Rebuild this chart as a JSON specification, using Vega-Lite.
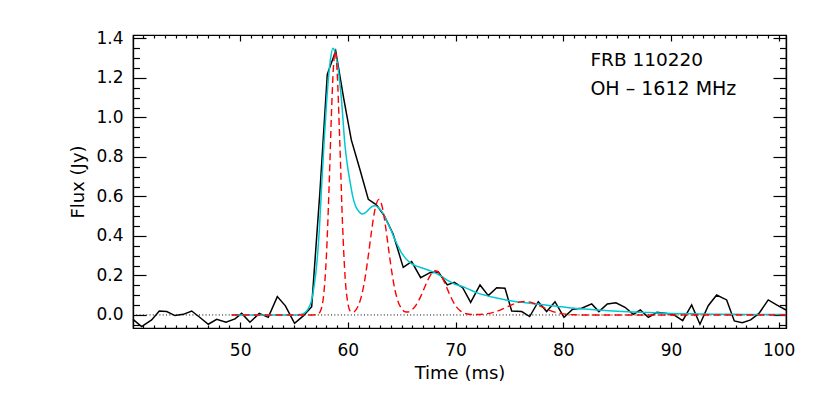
{
 "$schema": "https://vega.github.io/schema/vega-lite/v6.json",
 "width": 653,
 "height": 293,
 "autosize": {"type": "none"},
 "padding": {"left": 133, "top": 35, "right": 44, "bottom": 71},
 "background": "white",
 "config": {
  "view": {"stroke": "black", "strokeWidth": 1.2},
  "axis": {"domainColor": "black", "tickColor": "black", "labelColor": "black", "titleColor": "black", "labelFont": "DejaVu Sans", "titleFont": "DejaVu Sans", "labelFontSize": 17, "titleFontSize": 18, "titleFontWeight": "normal", "grid": false, "domainWidth": 1.2, "tickWidth": 1.2}
 },
 "datasets": {
  "obs": [
   {"t": 40.05, "f": -0.022}, {"t": 40.85, "f": -0.059}, {"t": 41.78, "f": -0.025}, {"t": 42.49, "f": 0.02}, {"t": 43.18, "f": 0.017}, {"t": 43.95, "f": -0.003}, {"t": 44.72, "f": 0.003}, {"t": 45.5, "f": 0.02}, {"t": 46.27, "f": -0.013}, {"t": 47.04, "f": -0.047}, {"t": 47.82, "f": -0.022}, {"t": 48.68, "f": -0.037}, {"t": 49.52, "f": -0.02}, {"t": 50.14, "f": 0.008}, {"t": 50.91, "f": -0.037}, {"t": 51.77, "f": 0.008}, {"t": 52.61, "f": -0.012}, {"t": 53.45, "f": 0.093}, {"t": 54.2, "f": 0.046}, {"t": 55.05, "f": -0.042}, {"t": 55.86, "f": -0.005}, {"t": 56.64, "f": 0.042}, {"t": 57.4, "f": 0.62}, {"t": 58.09, "f": 1.218}, {"t": 58.87, "f": 1.336}, {"t": 59.6, "f": 1.1}, {"t": 60.32, "f": 0.886}, {"t": 61.1, "f": 0.74}, {"t": 61.9, "f": 0.585}, {"t": 62.65, "f": 0.557}, {"t": 63.4, "f": 0.5}, {"t": 64.2, "f": 0.41}, {"t": 65.14, "f": 0.241}, {"t": 65.92, "f": 0.27}, {"t": 66.76, "f": 0.189}, {"t": 67.62, "f": 0.214}, {"t": 68.39, "f": 0.218}, {"t": 69.23, "f": 0.152}, {"t": 69.88, "f": 0.165}, {"t": 70.66, "f": 0.138}, {"t": 71.4, "f": 0.064}, {"t": 72.27, "f": 0.152}, {"t": 73.04, "f": 0.098}, {"t": 73.82, "f": 0.138}, {"t": 74.59, "f": 0.135}, {"t": 75.21, "f": 0.02}, {"t": 76.14, "f": 0.017}, {"t": 76.88, "f": -0.008}, {"t": 77.68, "f": 0.067}, {"t": 78.46, "f": 0.017}, {"t": 79.23, "f": 0.067}, {"t": 80.07, "f": -0.012}, {"t": 80.87, "f": 0.029}, {"t": 81.71, "f": 0.034}, {"t": 82.64, "f": 0.056}, {"t": 83.31, "f": 0.017}, {"t": 84.09, "f": 0.056}, {"t": 84.89, "f": 0.062}, {"t": 85.73, "f": 0.039}, {"t": 86.5, "f": 0.003}, {"t": 87.15, "f": 0.025}, {"t": 87.9, "f": -0.012}, {"t": 88.7, "f": 0.013}, {"t": 89.6, "f": 0.008}, {"t": 90.28, "f": 0.0}, {"t": 91.09, "f": -0.029}, {"t": 91.92, "f": 0.051}, {"t": 92.69, "f": -0.047}, {"t": 93.46, "f": 0.047}, {"t": 94.24, "f": 0.101}, {"t": 95.17, "f": 0.076}, {"t": 95.88, "f": -0.03}, {"t": 96.62, "f": -0.039}, {"t": 97.4, "f": -0.025}, {"t": 98.17, "f": 0.008}, {"t": 99.03, "f": 0.076}, {"t": 99.81, "f": 0.051}, {"t": 100.68, "f": 0.025}
  ],
  "model": [
   {"t": 49.2, "f": 0}, {"t": 55.3, "f": 0}, {"t": 55.6, "f": 0.003}, {"t": 55.9, "f": 0.008}, {"t": 56.17, "f": 0.02}, {"t": 56.45, "f": 0.045}, {"t": 56.7, "f": 0.09}, {"t": 56.9, "f": 0.16}, {"t": 57.1, "f": 0.25}, {"t": 57.35, "f": 0.43}, {"t": 57.57, "f": 0.66}, {"t": 57.8, "f": 0.88}, {"t": 58.03, "f": 1.08}, {"t": 58.2, "f": 1.2}, {"t": 58.4, "f": 1.3}, {"t": 58.6, "f": 1.35}, {"t": 58.75, "f": 1.34}, {"t": 58.9, "f": 1.31}, {"t": 59.17, "f": 1.215}, {"t": 59.42, "f": 1.08}, {"t": 59.73, "f": 0.86}, {"t": 59.95, "f": 0.76}, {"t": 60.2, "f": 0.675}, {"t": 60.45, "f": 0.6}, {"t": 60.7, "f": 0.553}, {"t": 61.0, "f": 0.525}, {"t": 61.3, "f": 0.511}, {"t": 61.6, "f": 0.517}, {"t": 61.9, "f": 0.532}, {"t": 62.2, "f": 0.547}, {"t": 62.5, "f": 0.553}, {"t": 62.8, "f": 0.545}, {"t": 63.1, "f": 0.528}, {"t": 63.4, "f": 0.5}, {"t": 63.7, "f": 0.465}, {"t": 64.0, "f": 0.43}, {"t": 64.3, "f": 0.39}, {"t": 64.6, "f": 0.355}, {"t": 64.9, "f": 0.322}, {"t": 65.2, "f": 0.298}, {"t": 65.5, "f": 0.278}, {"t": 65.9, "f": 0.26}, {"t": 66.4, "f": 0.247}, {"t": 66.9, "f": 0.238}, {"t": 67.5, "f": 0.226}, {"t": 68.1, "f": 0.213}, {"t": 68.7, "f": 0.195}, {"t": 69.3, "f": 0.174}, {"t": 69.9, "f": 0.156}, {"t": 70.5, "f": 0.147}, {"t": 71.2, "f": 0.131}, {"t": 72.0, "f": 0.112}, {"t": 72.8, "f": 0.099}, {"t": 73.6, "f": 0.088}, {"t": 74.5, "f": 0.078}, {"t": 75.5, "f": 0.068}, {"t": 76.5, "f": 0.062}, {"t": 77.5, "f": 0.056}, {"t": 78.5, "f": 0.049}, {"t": 79.5, "f": 0.043}, {"t": 80.5, "f": 0.037}, {"t": 82.0, "f": 0.03}, {"t": 83.5, "f": 0.024}, {"t": 85.0, "f": 0.019}, {"t": 86.5, "f": 0.015}, {"t": 88.0, "f": 0.012}, {"t": 90.0, "f": 0.008}, {"t": 92.0, "f": 0.006}, {"t": 94.0, "f": 0.004}, {"t": 96.0, "f": 0.003}, {"t": 98.0, "f": 0.002}, {"t": 100.68, "f": 0.002}
  ],
  "comp": [
   {"t": 49.2, "f": 0}, {"t": 56.5, "f": 0}, {"t": 57.0, "f": 0.001}, {"t": 57.25, "f": 0.005}, {"t": 57.5, "f": 0.026}, {"t": 57.75, "f": 0.1}, {"t": 58.0, "f": 0.29}, {"t": 58.25, "f": 0.637}, {"t": 58.5, "f": 1.055}, {"t": 58.65, "f": 1.246}, {"t": 58.82, "f": 1.335}, {"t": 59.0, "f": 1.236}, {"t": 59.25, "f": 0.875}, {"t": 59.5, "f": 0.467}, {"t": 59.75, "f": 0.187}, {"t": 60.0, "f": 0.059}, {"t": 60.25, "f": 0.018}, {"t": 60.5, "f": 0.014}, {"t": 60.75, "f": 0.026}, {"t": 61.0, "f": 0.051}, {"t": 61.3, "f": 0.104}, {"t": 61.6, "f": 0.188}, {"t": 61.9, "f": 0.301}, {"t": 62.2, "f": 0.425}, {"t": 62.5, "f": 0.529}, {"t": 62.88, "f": 0.585}, {"t": 63.2, "f": 0.545}, {"t": 63.5, "f": 0.448}, {"t": 63.8, "f": 0.326}, {"t": 64.1, "f": 0.21}, {"t": 64.4, "f": 0.12}, {"t": 64.7, "f": 0.062}, {"t": 65.0, "f": 0.032}, {"t": 65.3, "f": 0.016}, {"t": 65.6, "f": 0.015}, {"t": 65.9, "f": 0.024}, {"t": 66.2, "f": 0.04}, {"t": 66.5, "f": 0.065}, {"t": 66.8, "f": 0.098}, {"t": 67.1, "f": 0.136}, {"t": 67.4, "f": 0.174}, {"t": 67.7, "f": 0.204}, {"t": 68.15, "f": 0.224}, {"t": 68.6, "f": 0.204}, {"t": 68.9, "f": 0.174}, {"t": 69.2, "f": 0.136}, {"t": 69.5, "f": 0.098}, {"t": 69.8, "f": 0.065}, {"t": 70.1, "f": 0.04}, {"t": 70.4, "f": 0.023}, {"t": 70.7, "f": 0.012}, {"t": 71.0, "f": 0.006}, {"t": 71.5, "f": 0.002}, {"t": 72.0, "f": 0.002}, {"t": 72.5, "f": 0.0035}, {"t": 73.0, "f": 0.007}, {"t": 73.5, "f": 0.013}, {"t": 74.0, "f": 0.022}, {"t": 74.5, "f": 0.034}, {"t": 75.0, "f": 0.046}, {"t": 75.5, "f": 0.058}, {"t": 76.0, "f": 0.066}, {"t": 76.4, "f": 0.068}, {"t": 76.8, "f": 0.066}, {"t": 77.3, "f": 0.058}, {"t": 77.8, "f": 0.046}, {"t": 78.3, "f": 0.034}, {"t": 78.8, "f": 0.022}, {"t": 79.3, "f": 0.013}, {"t": 79.8, "f": 0.007}, {"t": 80.3, "f": 0.0035}, {"t": 81.0, "f": 0.001}, {"t": 82.0, "f": 0}, {"t": 100.68, "f": 0}
  ],
  "zero": [{"t": 40.05, "f": 0}, {"t": 100.68, "f": 0}]
 },
 "layer": [
  {
   "data": {"name": "zero"},
   "mark": {"type": "line", "color": "black", "strokeWidth": 1, "strokeDash": [1, 2.3]},
   "encoding": {
    "x": {"field": "t", "type": "quantitative", "scale": {"domain": [40.05, 100.68], "nice": false, "zero": false},
          "axis": {"orient": "top", "values": [41,42,43,44,45,46,47,48,49,51,52,53,54,55,56,57,58,59,61,62,63,64,65,66,67,68,69,71,72,73,74,75,76,77,78,79,81,82,83,84,85,86,87,88,89,91,92,93,94,95,96,97,98,99], "tickSize": -3, "labels": false, "title": null}},
    "y": {"field": "f", "type": "quantitative", "scale": {"domain": [-0.066, 1.417], "nice": false, "zero": false},
          "axis": {"orient": "right", "values": [-0.05,0.05,0.1,0.15,0.25,0.3,0.35,0.45,0.5,0.55,0.65,0.7,0.75,0.85,0.9,0.95,1.05,1.1,1.15,1.25,1.3,1.35], "tickSize": -6.5, "labels": false, "title": null}}
   }
  },
  {
   "data": {"name": "obs"},
   "mark": {"type": "line", "color": "black", "strokeWidth": 1.5},
   "encoding": {
    "x": {"field": "t", "type": "quantitative", "scale": {"domain": [40.05, 100.68], "nice": false, "zero": false},
          "axis": {"orient": "bottom", "values": [50, 60, 70, 80, 90, 100], "tickSize": -6, "labelPadding": 20, "title": "Time (ms)", "titlePadding": 6}},
    "y": {"field": "f", "type": "quantitative", "scale": {"domain": [-0.066, 1.417], "nice": false, "zero": false},
          "axis": {"orient": "left", "values": [0, 0.2, 0.4, 0.6, 0.8, 1.0, 1.2, 1.4], "format": ".1f", "tickSize": -13, "labelPadding": 23, "title": "Flux (Jy)", "titlePadding": 8}}
   }
  },
  {
   "data": {"name": "model"},
   "mark": {"type": "line", "color": "#00c8d2", "strokeWidth": 1.5, "interpolate": "monotone"},
   "encoding": {
    "x": {"field": "t", "type": "quantitative", "scale": {"domain": [40.05, 100.68], "nice": false, "zero": false},
          "axis": {"orient": "bottom", "values": [41,42,43,44,45,46,47,48,49,51,52,53,54,55,56,57,58,59,61,62,63,64,65,66,67,68,69,71,72,73,74,75,76,77,78,79,81,82,83,84,85,86,87,88,89,91,92,93,94,95,96,97,98,99], "tickSize": -3, "labels": false, "title": null}},
    "y": {"field": "f", "type": "quantitative", "scale": {"domain": [-0.066, 1.417], "nice": false, "zero": false},
          "axis": {"orient": "left", "values": [-0.05,0.05,0.1,0.15,0.25,0.3,0.35,0.45,0.5,0.55,0.65,0.7,0.75,0.85,0.9,0.95,1.05,1.1,1.15,1.25,1.3,1.35], "tickSize": -6.5, "labels": false, "title": null}}
   }
  },
  {
   "data": {"name": "comp"},
   "mark": {"type": "line", "color": "#ff0000", "strokeWidth": 1.4, "strokeDash": [7, 4], "interpolate": "monotone"},
   "encoding": {
    "x": {"field": "t", "type": "quantitative", "scale": {"domain": [40.05, 100.68], "nice": false, "zero": false},
          "axis": {"orient": "top", "values": [50, 60, 70, 80, 90, 100], "tickSize": -6, "labels": false, "title": null}},
    "y": {"field": "f", "type": "quantitative", "scale": {"domain": [-0.066, 1.417], "nice": false, "zero": false},
          "axis": {"orient": "right", "values": [0, 0.2, 0.4, 0.6, 0.8, 1.0, 1.2, 1.4], "tickSize": -13, "labels": false, "title": null}}
   }
  },
  {
   "data": {"values": [{"label": "FRB 110220"}]},
   "mark": {"type": "text", "align": "left", "baseline": "alphabetic", "font": "DejaVu Sans", "fontSize": 18.5, "color": "black"},
   "encoding": {
    "x": {"datum": 82.52, "type": "quantitative", "axis": null},
    "y": {"datum": 1.262, "type": "quantitative", "axis": null},
    "text": {"field": "label"}
   }
  },
  {
   "data": {"values": [{"label": "OH – 1612 MHz"}]},
   "mark": {"type": "text", "align": "left", "baseline": "alphabetic", "font": "DejaVu Sans", "fontSize": 19, "color": "black"},
   "encoding": {
    "x": {"datum": 82.52, "type": "quantitative", "axis": null},
    "y": {"datum": 1.113, "type": "quantitative", "axis": null},
    "text": {"field": "label"}
   }
  }
 ],
 "resolve": {"axis": {"x": "independent", "y": "independent"}}
}
